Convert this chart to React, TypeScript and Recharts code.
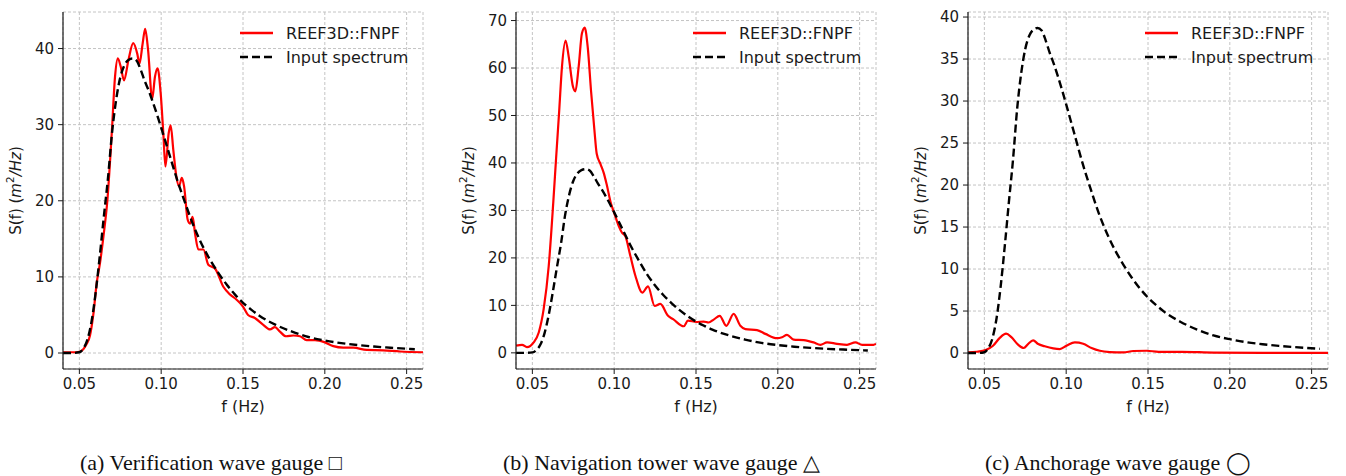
import { CartesianGrid, Legend, Line, LineChart, XAxis, YAxis } from "recharts";

// input JONSWAP spectrum (same in all three panels)
const INPUT_F = [0.04, 0.045, 0.05, 0.0525, 0.055, 0.0575, 0.06, 0.0625, 0.065, 0.0675, 0.07, 0.0725, 0.075, 0.0775, 0.08, 0.0825, 0.085, 0.0875, 0.09, 0.0925, 0.095, 0.0975, 0.1, 0.105, 0.11, 0.115, 0.12, 0.125, 0.13, 0.135, 0.14, 0.145, 0.15, 0.155, 0.16, 0.17, 0.18, 0.19, 0.2, 0.21, 0.22, 0.23, 0.24, 0.255];
const INPUT_S = [0, 0, 0.1, 0.6, 1.8, 4.2, 8.0, 12.8, 18.0, 23.0, 29.0, 33.3, 36.2, 37.8, 38.5, 38.7, 38.4, 37.2, 35.7, 34.4, 32.9, 31.3, 29.6, 26.1, 22.6, 19.5, 16.6, 14.2, 12.2, 10.5, 9.0, 7.7, 6.6, 5.7, 4.9, 3.7, 2.8, 2.1, 1.65, 1.3, 1.05, 0.85, 0.7, 0.5];

// (a) verification gauge
const GAUGE_A_F = [0.04, 0.045, 0.048, 0.0505, 0.0524, 0.0545, 0.0565, 0.0585, 0.0606, 0.0626, 0.0647, 0.0671, 0.0698, 0.0718, 0.0735, 0.0753, 0.0773, 0.08, 0.0829, 0.0854, 0.0867, 0.0887, 0.0902, 0.092, 0.0945, 0.0962, 0.0978, 0.0997, 0.1013, 0.1026, 0.1046, 0.1058, 0.1074, 0.1092, 0.1109, 0.1126, 0.114, 0.1162, 0.1176, 0.1192, 0.1207, 0.1227, 0.1258, 0.1288, 0.1329, 0.138, 0.142, 0.1461, 0.15, 0.1531, 0.1572, 0.1624, 0.1665, 0.1695, 0.1726, 0.1763, 0.1808, 0.1848, 0.1889, 0.194, 0.2001, 0.2052, 0.2113, 0.2174, 0.2256, 0.2357, 0.246, 0.26];
const GAUGE_A_S = [0.1, 0.1, 0.1, 0.2, 0.5, 1.2, 2.3, 5.0, 9.2, 11.8, 15.3, 20.0, 28.9, 36.3, 38.7, 37.6, 35.8, 38.5, 40.7, 39.3, 38.0, 40.7, 42.6, 39.8, 33.4, 36.3, 37.4, 34.1, 28.9, 24.5, 28.9, 29.9, 26.7, 23.3, 21.9, 23.0, 21.9, 17.5, 17.0, 17.9, 15.7, 13.6, 13.6, 11.6, 11.1, 8.7, 7.7, 7.0, 6.1, 5.0, 4.6, 3.7, 3.1, 3.4, 2.8, 2.2, 2.3, 2.2, 1.7, 1.7, 1.4, 0.9, 0.7, 0.7, 0.4, 0.35, 0.2, 0.1];

// (b) navigation tower gauge
const GAUGE_B_F = [0.04, 0.0437, 0.0467, 0.0508, 0.0539, 0.0569, 0.06, 0.0628, 0.0645, 0.0664, 0.0681, 0.0703, 0.0722, 0.0748, 0.0763, 0.0783, 0.0803, 0.082, 0.0838, 0.0859, 0.0879, 0.0893, 0.0917, 0.0936, 0.0954, 0.098, 0.1, 0.1028, 0.1048, 0.1068, 0.1099, 0.113, 0.1172, 0.1207, 0.1247, 0.1282, 0.1329, 0.136, 0.1425, 0.1451, 0.1502, 0.1547, 0.1577, 0.1608, 0.1645, 0.1685, 0.173, 0.1771, 0.1802, 0.1873, 0.1924, 0.1995, 0.2026, 0.2056, 0.2097, 0.2158, 0.2219, 0.226, 0.2301, 0.2362, 0.2423, 0.2474, 0.2515, 0.2585, 0.26];
const GAUGE_B_S = [1.5, 1.7, 1.2, 2.2, 4.3, 9.2, 18.3, 31.8, 41.0, 51.0, 60.3, 65.8, 62.4, 56.1, 55.1, 60.3, 67.3, 68.5, 64.5, 55.0, 47.0, 42.0, 39.7, 37.9, 35.5, 31.5, 29.5, 26.7, 25.3, 24.6, 20.4, 16.2, 12.7, 14.0, 9.9, 10.3, 7.8, 7.1, 5.6, 6.8, 6.5, 6.6, 6.4, 7.0, 7.8, 5.7, 8.2, 5.7, 5.0, 4.8, 4.0, 3.1, 3.3, 3.8, 2.8, 2.7, 2.2, 1.7, 2.2, 1.9, 1.7, 2.2, 1.7, 1.7, 1.9];

// (c) anchorage gauge
const GAUGE_C_F = [0.04, 0.0451, 0.0512, 0.0553, 0.0594, 0.0633, 0.0665, 0.0706, 0.0741, 0.0767, 0.0798, 0.0829, 0.0869, 0.0921, 0.0961, 0.1002, 0.1053, 0.1104, 0.1155, 0.1206, 0.1267, 0.1349, 0.141, 0.1492, 0.1565, 0.1708, 0.19, 0.22, 0.26];
const GAUGE_C_S = [0.07, 0.15, 0.4, 0.87, 1.8, 2.3, 1.9, 1.0, 0.6, 1.07, 1.5, 1.07, 0.8, 0.55, 0.47, 0.87, 1.26, 1.1, 0.6, 0.27, 0.12, 0.07, 0.24, 0.27, 0.15, 0.15, 0.06, 0.03, 0.02];

const FREQ_TICKS = [0.05, 0.1, 0.15, 0.2, 0.25];
const Y_TICKS_A = [0, 10, 20, 30, 40];
const Y_TICKS_B = [0, 10, 20, 30, 40, 50, 60, 70];
const Y_TICKS_C = [0, 5, 10, 15, 20, 25, 30, 35, 40];

const SERIES_NAMES = ["REEF3D::FNPF", "Input spectrum"];
const CAPTIONS = ["(a) Verification wave gauge \u25A1", "(b) Navigation tower wave gauge \u25B3", "(c) Anchorage wave gauge \u25EF"];

const RED = "#ff0000";
const INK = "#1a1a1a";
const GRID = "#c4c4c4";
const SANS = "DejaVu Sans";

const zip = (f: number[], s: number[]) => f.map((x, i) => ({ f: x, s: s[i] }));
const inputData = zip(INPUT_F, INPUT_S);

function YTitle({ viewBox }: any) {
  const cx = viewBox.x + viewBox.width - 47;
  const cy = viewBox.y + viewBox.height / 2;
  return (
    <text x={cx} y={cy} transform={`rotate(-90 ${cx} ${cy})`} textAnchor="middle" dominantBaseline="central" fontFamily={SANS} fontSize={15} fill={INK}>
      S(f) (<tspan fontStyle="italic">m</tspan>
      <tspan dy={-6} fontSize={10.5}>2</tspan>
      <tspan dy={6} fontStyle="italic">/Hz</tspan>)
    </text>
  );
}

function SpectrumLegend() {
  return (
    <div style={{ fontFamily: SANS, fontSize: 16, color: INK }}>
      {SERIES_NAMES.map((name, i) => (
        <div key={name} style={{ display: "flex", alignItems: "center", height: 24, whiteSpace: "nowrap" }}>
          <svg width={46} height={24}>
            <line x1={0} x2={33} y1={12} y2={12} stroke={i === 0 ? RED : "#000"} strokeWidth={2.4} strokeDasharray={i === 0 ? undefined : "8 4"} />
          </svg>
          <span>{name}</span>
        </div>
      ))}
    </div>
  );
}

type PanelProps = {
  left: number;
  gauge: { f: number; s: number }[];
  yDomain: [number, number];
  yTicks: number[];
  axisWidth: number;
  rightMargin: number;
};

function SpectrumPanel({ left, gauge, yDomain, yTicks, axisWidth, rightMargin }: PanelProps) {
  const width = 440;
  const plotRight = width - rightMargin;
  const tick = { fill: INK, fontSize: 15, fontFamily: SANS };
  return (
    <div style={{ position: "absolute", left, top: 0 }}>
      <LineChart width={width} height={420} margin={{ top: 12, right: rightMargin, bottom: 6, left: 0 }}>
        <CartesianGrid stroke={GRID} strokeDasharray="3 2" />
        <XAxis
          type="number"
          dataKey="f"
          domain={[0.04, 0.26]}
          ticks={FREQ_TICKS}
          allowDataOverflow
          tickFormatter={(v: number) => v.toFixed(2)}
          height={45}
          tick={tick}
          tickSize={5}
          tickMargin={4}
          axisLine={{ stroke: INK, strokeWidth: 1.2 }}
          tickLine={{ stroke: INK }}
          label={{ value: "f (Hz)", position: "insideBottom", offset: 2, fill: INK, fontSize: 16, fontFamily: SANS }}
        />
        <YAxis
          type="number"
          dataKey="s"
          domain={yDomain}
          ticks={yTicks}
          allowDataOverflow
          width={axisWidth}
          tick={tick}
          tickSize={5}
          tickMargin={4}
          axisLine={{ stroke: INK, strokeWidth: 1.2 }}
          tickLine={{ stroke: INK }}
          label={{ content: (p: any) => <YTitle {...p} /> }}
        />
        <Legend
          layout="vertical"
          align="center"
          verticalAlign="middle"
          content={() => <SpectrumLegend />}
          wrapperStyle={{ left: plotRight - 183, top: 21, width: 190, height: 48 }}
        />
        <Line data={gauge} dataKey="s" name={SERIES_NAMES[0]} type="monotone" stroke={RED} strokeWidth={2.2} dot={false} isAnimationActive={false} />
        <Line data={inputData} dataKey="s" name={SERIES_NAMES[1]} type="monotone" stroke="#000" strokeWidth={2.4} strokeDasharray="8 4" dot={false} isAnimationActive={false} />
      </LineChart>
    </div>
  );
}

export default function App() {
  return (
    <div style={{ position: "absolute", left: 0, top: 0, width: 1346, height: 476, background: "#fff" }}>
      <SpectrumPanel left={0} gauge={zip(GAUGE_A_F, GAUGE_A_S)} yDomain={[-2.1, 44.8]} yTicks={Y_TICKS_A} axisWidth={63} rightMargin={17} />
      <SpectrumPanel left={450} gauge={zip(GAUGE_B_F, GAUGE_B_S)} yDomain={[-3.4, 71.8]} yTicks={Y_TICKS_B} axisWidth={66} rightMargin={14} />
      <SpectrumPanel left={900} gauge={zip(GAUGE_C_F, GAUGE_C_S)} yDomain={[-1.9, 40.6]} yTicks={Y_TICKS_C} axisWidth={68} rightMargin={12} />
      <svg width={1346} height={476} style={{ position: "absolute", left: 0, top: 0, pointerEvents: "none" }}>
        {CAPTIONS.map((c, i) => (
          <text key={c} x={[80, 503, 985][i]} y={470} fontFamily="Liberation Serif" fontSize={22} fill="#111">
            {c}
          </text>
        ))}
      </svg>
    </div>
  );
}
